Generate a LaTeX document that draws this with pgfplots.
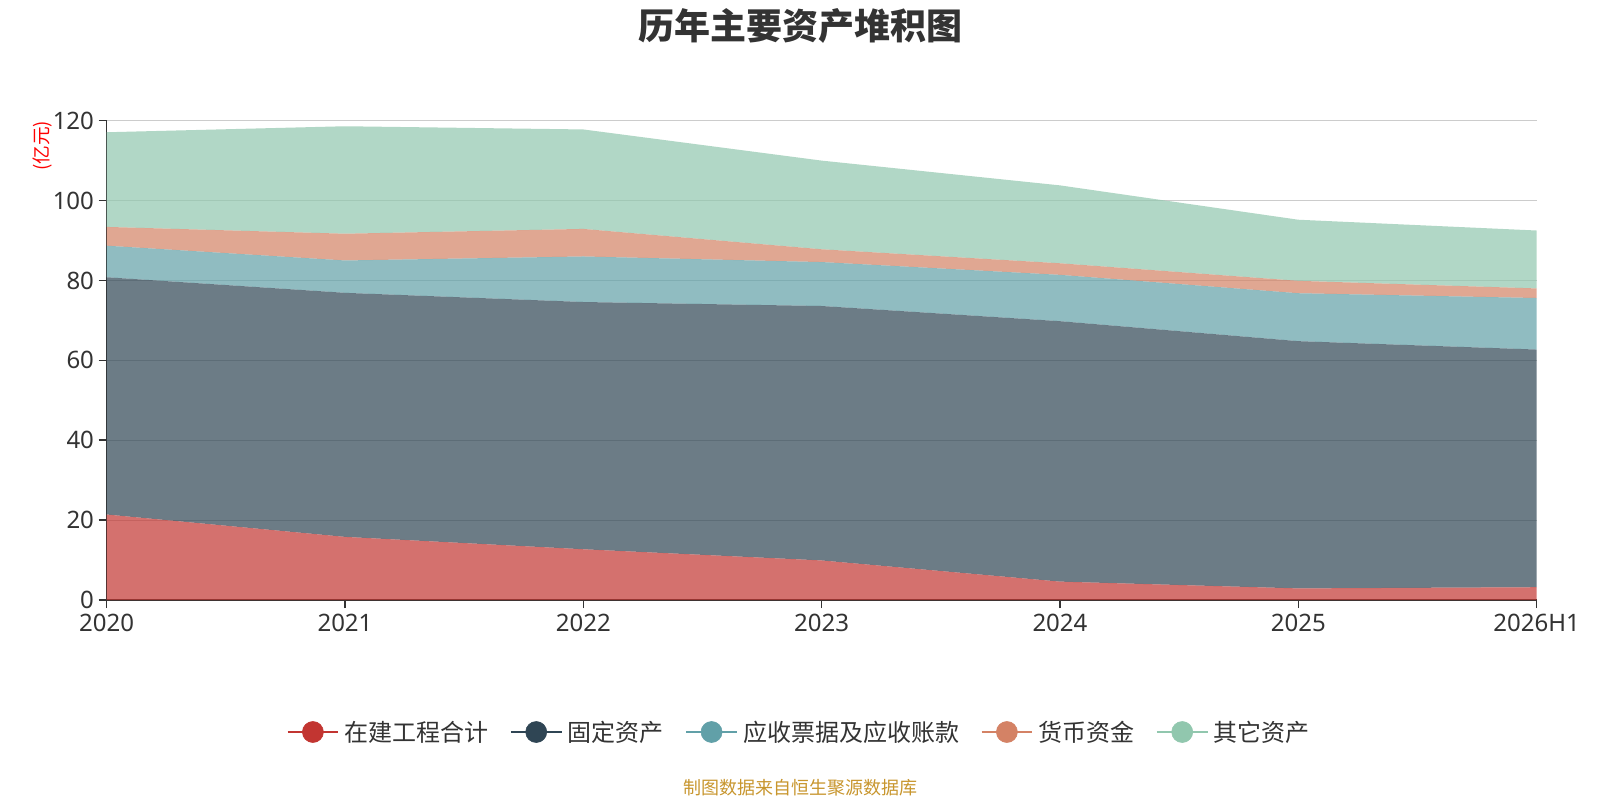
\documentclass[border=0pt]{standalone}
\usepackage{pgfplots}
\pgfplotsset{compat=1.18}
\usepackage{fontspec}
\setmainfont{Noto Sans}
\newfontfamily\cjk{Noto Sans CJK SC}
\definecolor{c1}{HTML}{C23531}
\definecolor{c2}{HTML}{2F4554}
\definecolor{c3}{HTML}{61A0A8}
\definecolor{c4}{HTML}{D48265}
\definecolor{c5}{HTML}{91C7AE}
\definecolor{txt}{HTML}{333333}
\definecolor{gridc}{HTML}{CCCCCC}
\definecolor{foot}{HTML}{C8962E}
\begin{document}
\begin{tikzpicture}
\path[fill=white,use as bounding box] (0,0) rectangle (1200pt,600pt);
\begin{axis}[
  at={(80pt,150pt)}, anchor=south west,
  scale only axis, width=1072.5pt, height=359.5pt,
  xmin=0, xmax=6, ymin=0, ymax=120,
  xtick={0,...,6}, xticklabels={2020,2021,2022,2023,2024,2025,2026H1},
  ytick={0,20,...,120},
  axis x line*=bottom, axis y line*=left,
  axis line style={draw=txt, line width=1.1pt},
  ymajorgrids, grid style={draw=gridc, line width=0.9pt},
  tick style={draw=txt, line width=1.1pt},
  tick align=outside, major tick length=6pt,
  ticklabel style={font=\fontsize{18}{18}\selectfont, text=txt},
  xticklabel style={yshift=-1pt},
  /pgf/number format/assume math mode=true,
  stack plots=y,
  legend columns=5,
  legend style={at={(0.4855,-0.2754)}, anchor=center, draw=none, fill=none,
    font=\cjk\fontsize{18}{18}\selectfont\color{txt},
    nodes={inner xsep=4pt},
    /tikz/every even column/.append style={column sep=12pt}},
  legend cell align=left,
]
\addlegendimage{legend image code/.code={\draw[c1, line width=1.5pt] (0pt,0pt) -- (38pt,0pt); \fill[c1] (19pt,0pt) circle (7.9pt);}}
\addlegendentry{在建工程合计}
\addlegendimage{legend image code/.code={\draw[c2, line width=1.5pt] (0pt,0pt) -- (38pt,0pt); \fill[c2] (19pt,0pt) circle (7.9pt);}}
\addlegendentry{固定资产}
\addlegendimage{legend image code/.code={\draw[c3, line width=1.5pt] (0pt,0pt) -- (38pt,0pt); \fill[c3] (19pt,0pt) circle (7.9pt);}}
\addlegendentry{应收票据及应收账款}
\addlegendimage{legend image code/.code={\draw[c4, line width=1.5pt] (0pt,0pt) -- (38pt,0pt); \fill[c4] (19pt,0pt) circle (7.9pt);}}
\addlegendentry{货币资金}
\addlegendimage{legend image code/.code={\draw[c5, line width=1.5pt] (0pt,0pt) -- (38pt,0pt); \fill[c5] (19pt,0pt) circle (7.9pt);}}
\addlegendentry{其它资产}

\addplot[fill=c1, fill opacity=0.7, draw=none, forget plot] coordinates {
(0,21.4) (1,15.8) (2,12.7) (3,9.9) (4,4.6) (5,2.9) (6,3.2)} \closedcycle;
\addplot[fill=c2, fill opacity=0.7, draw=none, forget plot] coordinates {
(0,59.4) (1,61.1) (2,61.9) (3,63.7) (4,65.2) (5,61.9) (6,59.5)} \closedcycle;
\addplot[fill=c3, fill opacity=0.7, draw=none, forget plot] coordinates {
(0,7.9) (1,8.1) (2,11.4) (3,11.0) (4,11.6) (5,12.0) (6,12.9)} \closedcycle;
\addplot[fill=c4, fill opacity=0.7, draw=none, forget plot] coordinates {
(0,4.7) (1,6.7) (2,6.9) (3,3.2) (4,2.9) (5,3.1) (6,2.4)} \closedcycle;
\addplot[fill=c5, fill opacity=0.7, draw=none, forget plot] coordinates {
(0,23.7) (1,26.9) (2,24.9) (3,22.2) (4,19.5) (5,15.3) (6,14.5)} \closedcycle;
\draw[txt, line width=1.1pt] (rel axis cs:0,1) -- (rel axis cs:0,0) -- (rel axis cs:1,0);
\end{axis}
\node[text=txt, font=\cjk\bfseries\fontsize{27}{27}\selectfont] at (600pt,580.5pt) {历年主要资产堆积图};
\node[text=red, rotate=90, font=\cjk\fontsize{14}{14}\selectfont] at (32pt,490.5pt) {(亿元)};
\node[text=foot, font=\cjk\fontsize{13.5}{13.5}\selectfont] at (600pt,9pt) {制图数据来自恒生聚源数据库};
\end{tikzpicture}
\end{document}
